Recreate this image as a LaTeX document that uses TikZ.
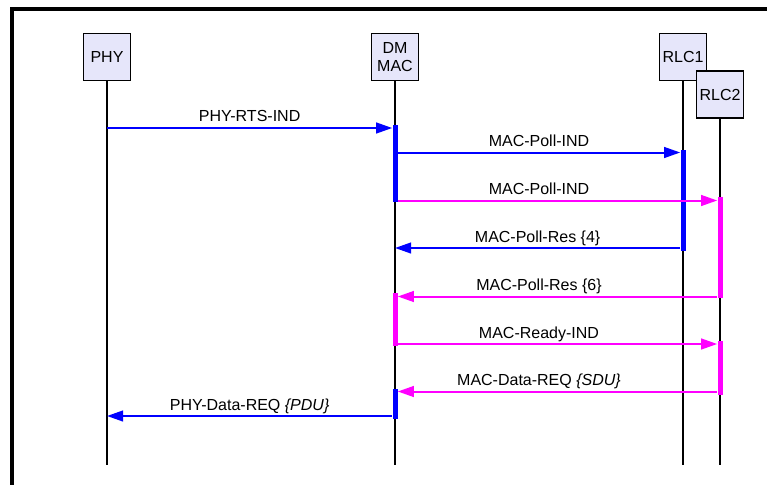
\documentclass[tikz,border=0pt]{standalone}
\usepackage{fontspec}
\setmainfont{Liberation Sans}
\usetikzlibrary{arrows.meta,calc}
\definecolor{lavend}{HTML}{E6E6FA}
\definecolor{msgblue}{HTML}{0000FF}
\definecolor{msgmag}{HTML}{FF00FF}

\begin{document}
\begin{tikzpicture}[x=0.75pt,y=-0.75pt,
  font=\fontsize{12}{13.5}\selectfont,
  entity/.style={draw=black,line width=1.1pt,fill=lavend,align=center,inner sep=0pt,
                 minimum width=35.25pt,minimum height=35.25pt},
  life/.style={black,line width=1.1pt},
  bar/.style={fill=#1,draw=none,inner sep=0pt,minimum width=3.75pt,anchor=north},
  msg/.style={-{Triangle[length=12pt,width=8pt]},#1,line width=1.5pt},
  lbl/.style={above,text=black,inner sep=0.75pt,text depth=3pt}]
  \useasboundingbox (0,0) rectangle (767,485);
  \draw[line width=2.4pt] (12,485) -- (12,9) -- (767,9);
  \node[entity] (phy) at (107,57) {PHY};
  \node[entity] (mac) at (395,57) {DM\\MAC};
  \node[entity] (rlc1) at (683,57) {RLC1};
  \node[entity] (rlc2) at (720,94.5) {RLC2};
  \coordinate (bot) at (0,465);
  \draw[life] (phy.south) -- (phy.south |- bot);
  \draw[life] (mac.south) -- (mac.south |- bot);
  \draw[life] (rlc1.south) -- (rlc1.south |- bot);
  \draw[life] (rlc2.south) -- (rlc2.south |- bot);
  \node[bar=msgblue,minimum height=57.75pt] (macA) at (395,125) {};
  \node[bar=msgblue,minimum height=75.4pt] (rlc1A) at (683,150) {};
  \node[bar=msgmag,minimum height=75.75pt] (rlc2A) at (720,197) {};
  \node[bar=msgmag,minimum height=39.75pt] (macB) at (395,293) {};
  \node[bar=msgmag,minimum height=40.5pt] (rlc2B) at (720,341) {};
  \node[bar=msgblue,minimum height=22.1pt] (macC) at (395,389) {};
  \coordinate (m1) at (0,128);
  \coordinate (m2) at (0,152.5);
  \coordinate (m3) at (0,200.5);
  \coordinate (m4) at (0,248);
  \coordinate (m5) at (0,296.5);
  \coordinate (m6) at (0,344);
  \coordinate (m7) at (0,391.5);
  \coordinate (m8) at (0,416);
  \draw[msg=msgblue] (phy |- m1) -- node[lbl] (l1) {PHY-RTS-IND} (macA.west |- m1);
  \draw[msg=msgblue] (macA.east |- m2) -- node[lbl] (l2) {MAC-Poll-IND} (rlc1A.west |- m2);
  \draw[msg=msgmag] (macA.east |- m3) -- node[lbl,pos=0.442] (l3) {MAC-Poll-IND} (rlc2A.west |- m3);
  \draw[msg=msgblue] (rlc1A.west |- m4) -- node[lbl] (l4) {MAC-Poll-Res \{4\}} (mac |- m4);
  \draw[msg=msgmag] (rlc2A.west |- m5) -- node[lbl,pos=0.558] (l5) {MAC-Poll-Res \{6\}} (macB.east |- m5);
  \draw[msg=msgmag] (macB.east |- m6) -- node[lbl,pos=0.442] (l6) {MAC-Ready-IND} (rlc2B.west |- m6);
  \draw[msg=msgmag] (rlc2B.west |- m7) -- node[lbl,pos=0.558] (l7) {MAC-Data-REQ \textit{\{SDU\}}} (macC.east |- m7);
  \draw[msg=msgblue] (macC.west |- m8) -- node[lbl] (l8) {PHY-Data-REQ \textit{\{PDU\}}} (phy |- m8);
\end{tikzpicture}
\end{document}
